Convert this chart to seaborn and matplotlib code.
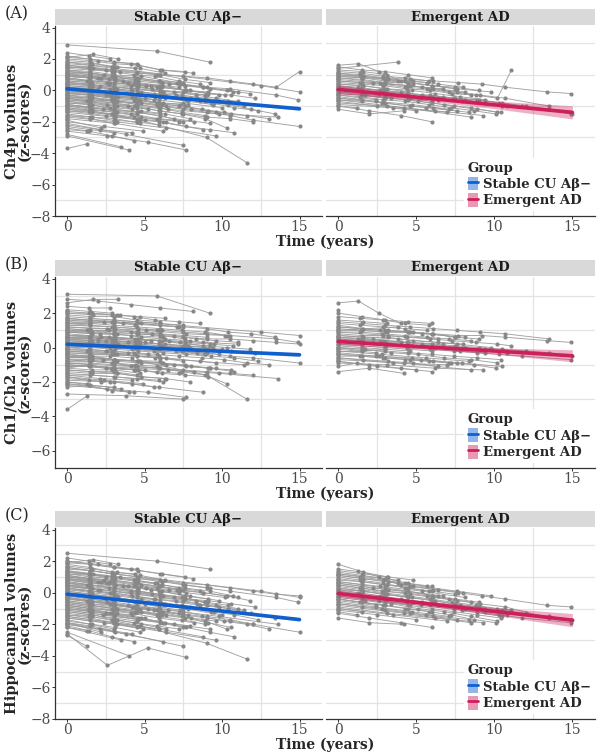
import pandas as pd
import numpy as np
import matplotlib
matplotlib.use("Agg")
import matplotlib.pyplot as plt
import seaborn as sns
from matplotlib.patches import Patch
from matplotlib.lines import Line2D
from matplotlib.legend_handler import HandlerTuple

# data area
groups = ['Stable CU A\u03b2\u2212', 'Emergent AD']

# visit times (years) per subject, stable CU Ab- group
st_time = [
    [0, 1.5, 3.1, 4.6], [0, 1.4, 2.9], [0, 2.0, 4.1, 6.0, 8.1],
    [0, 1.6, 3.2, 4.8, 6.3, 7.9, 9.5], [0, 5.8, 9.2], [0, 1.3],
    [0, 1.5, 3.0, 4.5, 6.1, 7.6, 9.1, 10.6], [0, 3.1, 6.2], [0, 1.5, 3.0, 12.5, 15.0],
    [0, 2.6, 5.2, 7.7], [0, 1.4, 2.8, 4.3, 5.8], [0, 4.0],
    [0, 1.6, 3.1, 4.7, 9.0, 11.6], [0, 1.5, 2.9, 4.4], [0, 2.5, 5.0, 7.5, 10.0],
    [0, 1.5, 3.0, 4.6, 6.1, 7.5, 9.0, 10.5, 13.5, 14.9], [0, 3.0, 5.9, 8.8], [0, 1.6],
    [0, 1.5, 3.0, 4.5, 6.0, 7.5], [0, 1.4, 2.9, 4.3, 5.7, 7.2, 8.6], [0, 2.1, 4.2],
    [0, 1.5, 3.1, 4.6, 6.2, 7.7, 9.3, 10.8, 12.3], [0, 1.7, 3.3], [0, 6.5, 9.8, 13.6],
    [0, 1.5, 3.0, 4.5, 5.9, 7.4, 8.9], [0, 2.4, 4.8, 7.1], [0, 1.5, 3.0],
    [0, 1.3, 2.7, 4.1, 5.5, 6.9, 8.3, 9.6, 11.0], [0, 3.5], [0, 1.5, 3.0, 4.5, 6.0, 7.6, 9.2],
    [0, 1.6, 3.2, 4.8, 6.4], [0, 2.9, 5.7, 8.6, 11.4], [0, 1.5, 3.0, 4.4, 5.9, 7.4, 8.9, 10.3],
    [0, 1.4, 2.8], [0, 1.5, 3.0, 4.5, 6.0, 7.5, 9.0, 10.5, 12.0, 13.5, 15.0], [0, 2.2],
    [0, 1.5, 3.1, 4.6, 6.0], [0, 1.6, 3.1, 4.6, 6.2, 7.7, 9.2, 10.8], [0, 4.5, 8.9],
    [0, 1.5, 2.9, 4.4, 5.9, 7.3], [0, 1.4, 2.9, 4.3], [0, 1.5, 3.0, 4.5, 6.0, 7.5, 9.0, 10.4, 11.9, 13.4],
    [0, 2.7, 5.4], [0, 1.5], [0, 1.5, 3.0, 4.6, 6.1, 7.6, 9.1],
    [0, 3.2, 6.4, 9.6], [0, 1.6, 3.2, 4.7, 6.3], [0, 1.5, 3.0, 4.5, 6.0, 7.5, 9.0, 10.5, 12.0, 15.0],
    [0, 1.4, 2.8, 4.2, 5.6], [0, 2.0, 3.9, 5.9, 7.9, 9.8], [0, 1.5, 3.0, 4.5],
    [0, 1.5, 3.0, 4.5, 6.0, 7.4, 8.9, 10.4], [0, 2.5], [0, 1.6, 3.2, 4.8, 6.3, 7.9],
    [0, 1.5, 2.9, 4.4, 5.9, 7.3, 8.8, 10.3, 11.8], [0, 3.8, 7.5], [0, 1.5, 3.0, 4.5, 6.0],
    [0, 1.4, 2.9, 4.3, 5.8, 7.2, 8.7, 10.1, 11.6, 13.0], [0, 1.5, 3.0, 4.6, 6.1, 7.6], [0, 2.3, 4.6, 6.9, 9.2],
    [0, 1.5, 3.0], [0, 1.4, 2.9, 4.4, 5.8], [0, 2.0], [0, 1.6, 3.1, 4.7],
    [0, 1.5, 3.0, 4.5, 6.0, 7.5, 9.0], [0, 3.0, 6.0], [0, 1.5, 2.9], [0, 1.3, 2.6, 3.9, 5.2],
    [0, 1.5, 3.1, 4.6, 6.1, 7.6, 9.2, 10.7], [0, 2.4, 4.9], [0, 1.5], [0, 1.6, 3.1, 4.7, 6.2, 7.8],
    [0, 1.5, 3.0, 4.5], [0, 4.1, 5.9, 8.2], [0, 1.4, 2.8, 4.2, 5.6, 7.0, 8.4, 9.8], [0, 1.5, 3.0],
    [0, 2.6, 5.1, 7.7, 10.2], [0, 1.5, 3.0, 4.5, 6.0], [0], [0, 1.7, 3.4],
    [0, 1.5, 3.0, 4.5, 6.0, 7.5, 9.0, 10.5, 12.0], [0, 3.3], [0, 1.5, 3.1, 4.6], [0, 1.4, 2.9, 4.3, 5.8, 7.2],
    [0, 2.1, 4.1, 6.2], [0, 1.5, 3.0], [0], [0, 1.6, 3.1, 4.7, 6.3, 7.8, 9.4],
    [0, 1.5, 3.0, 4.5], [0, 2.9, 5.8], [0, 1.5, 2.9, 4.4, 5.9], [0, 1.3],
    [0, 1.5, 3.0, 4.6, 6.1, 7.6, 9.1, 10.6, 12.1], [0, 2.5, 5.0], [0, 1.5, 3.0, 4.5, 6.0, 7.5], [0],
    [0, 1.4, 2.8, 4.2], [0, 1.6, 3.2, 4.8, 6.4, 8.0, 9.6], [0, 3.6, 7.2], [0, 1.5, 3.0, 4.5, 5.9],
    [0, 1.5], [0, 2.2, 4.4, 6.6, 8.8, 11.0], [0, 1.5, 3.0, 4.4], [0],
    [0, 1.5, 3.0, 4.5, 6.0, 7.4, 8.9],
]
st_ch4p = [
    [1.2, 1.0, 0.9, 0.6], [-0.5, -0.7, -0.6], [2.2, 1.9, 1.7, 1.3, 1.1],
    [0.4, 0.3, 0.1, -0.1, -0.3, -0.5, -0.8], [2.9, 2.5, 1.8], [-3.7, -3.4],
    [-0.2, -0.3, -0.5, -0.6, -0.9, -1.0, -1.3, -1.5], [-1.8, -2.1, -2.6], [1.7, 1.6, 1.4, 0.3, -0.1],
    [-2.6, -2.9, -3.3, -3.8], [0.9, 0.8, 0.5, 0.4, 0.2], [-2.9, -3.8],
    [-1.1, -1.3, -1.6, -1.9, -3.0, -4.6], [1.9, 1.8, 1.5, 1.4], [0.0, -0.3, -0.5, -0.8, -1.1],
    [1.0, 0.9, 0.8, 0.7, 0.5, 0.4, 0.2, 0.1, -0.3, -0.6], [-1.4, -1.7, -2.0, -2.5], [0.6, 0.5],
    [-0.8, -0.9, -1.2, -1.4, -1.6, -2.0], [1.5, 1.4, 1.2, 1.0, 0.9, 0.6, 0.4], [-2.2, -2.5, -2.7],
    [0.3, 0.2, 0.0, -0.1, -0.3, -0.6, -0.8, -1.1, -1.3], [2.1, 2.3, 2.0], [-0.6, -1.2, -1.5, -1.7],
    [-0.3, -0.5, -0.6, -0.9, -1.1, -1.4, -1.6], [1.3, 1.0, 0.9, 0.5], [-1.6, -1.8, -2.1],
    [0.7, 0.6, 0.4, 0.3, 0.1, -0.1, -0.3, -0.5, -0.7], [-2.8, -3.6], [1.6, 1.5, 1.3, 1.2, 1.0, 0.7, 0.5],
    [-1.0, -1.2, -1.4, -1.7, -2.0], [0.1, -0.1, -0.4, -0.7, -1.0], [-0.5, -0.6, -0.8, -1.0, -1.3, -1.5, -1.8, -2.4],
    [2.4, 2.2, 2.0], [1.4, 1.3, 1.2, 1.1, 1.0, 0.9, 0.8, 0.6, 0.4, 0.2, 1.2], [-1.9, -2.4],
    [0.8, 0.6, 0.6, 0.3, 0.2], [-1.3, -1.4, -1.6, -1.8, -2.0, -2.3, -2.5, -2.7], [0.5, 0.1, -0.3],
    [-0.1, -0.2, -0.4, -0.5, -0.8, -0.9], [-2.4, -2.6, -2.9, -3.2], [0.2, 0.1, -0.1, -0.2, -0.4, -0.5, -0.7, -0.9, -1.2, -1.5],
    [1.1, 0.7, 0.3], [-0.9, -1.1], [0.9, 0.8, 0.7, 0.4, 0.3, 0.0, -0.1],
    [-1.7, -2.0, -2.4, -2.9], [1.8, 1.7, 1.5, 1.4, 1.1], [-0.4, -0.5, -0.7, -0.8, -1.0, -1.2, -1.4, -1.6, -1.9, -2.3],
    [0.0, -0.1, -0.3, -0.4, -0.6], [1.0, 0.8, 0.5, 0.3, 0.0, -0.3], [-1.2, -1.4, -1.5, -1.9],
    [0.5, 0.4, 0.2, 0.1, -0.1, -0.3, -0.5, -0.7], [1.5, 1.3], [-0.7, -0.9, -1.0, -1.3, -1.5, -1.8],
    [1.2, 1.1, 0.9, 0.8, 0.6, 0.4, 0.2, 0.0, -0.2], [-2.1, -2.8, -3.5], [0.3, 0.2, 0.1, -0.2, -0.3],
    [-0.2, -0.3, -0.5, -0.6, -0.8, -1.0, -1.2, -1.4, -1.6, -1.8], [2.0, 1.9, 1.7, 1.6, 1.3, 1.2], [-0.9, -1.2, -1.4, -1.8, -2.1],
    [1.3, 1.2, 1.0], [-0.3, -0.4, -0.6, -0.7, -0.9], [0.2, 0.1], [-1.5, -1.7, -1.8, -2.1],
    [0.6, 0.5, 0.3, 0.2, 0.0, -0.1, -0.3], [-0.9, -1.2, -1.5], [1.8, 1.6, 1.5], [-0.6, -0.7, -0.9, -1.0, -1.2],
    [1.1, 1.0, 0.8, 0.7, 0.5, 0.3, 0.1, -0.1], [-2.0, -2.3, -2.6], [0.9, 0.8], [-0.1, -0.3, -0.4, -0.6, -0.8, -0.9],
    [2.1, 2.0, 1.8, 1.7], [-1.1, -1.5, -1.8, -2.0], [0.4, 0.3, 0.1, 0.0, -0.2, -0.3, -0.5, -0.7], [-2.3, -2.5, -2.7],
    [0.8, 0.5, 0.3, 0.0, -0.3], [-0.4, -0.6, -0.7, -0.9, -1.1], [-1.8], [1.5, 1.4, 1.2],
    [-0.7, -0.8, -1.0, -1.1, -1.3, -1.5, -1.7, -1.8, -2.0], [0.0, -0.4], [1.0, 0.9, 0.7, 0.5], [-1.2, -1.3, -1.5, -1.7, -1.8, -2.0],
    [0.5, 0.3, 0.1, -0.1], [-0.2, -0.3, -0.5], [1.7], [0.1, 0.0, -0.2, -0.3, -0.5, -0.7, -0.9],
    [-1.0, -1.1, -1.3, -1.5], [1.6, 1.3, 1.0], [0.0, -0.2, -0.3, -0.5, -0.6], [-2.5, -2.6],
    [0.7, 0.6, 0.5, 0.3, 0.2, 0.0, -0.2, -0.3, -0.5], [-1.3, -1.6, -1.9], [1.2, 1.1, 0.9, 0.8, 0.6, 0.5], [0.3],
    [-0.8, -0.9, -1.1, -1.2], [-0.4, -0.5, -0.7, -0.8, -1.0, -1.2, -1.4], [0.9, 0.6, 0.2], [-1.6, -1.7, -1.9, -2.0, -2.2],
    [0.5, 0.4], [1.0, 0.8, 0.6, 0.4, 0.2, -0.1], [-0.5, -0.7, -0.8, -1.0], [-1.3],
    [0.2, 0.1, -0.1, -0.2, -0.4, -0.5, -0.7],
]
st_ch12 = [
    [0.5, 0.6, 0.4, 0.3], [-1.2, -1.0, -1.3], [2.8, 2.7, 2.5, 2.3, 2.1],
    [0.9, 0.8, 0.8, 0.6, 0.5, 0.4, 0.2], [3.1, 3.0, 2.0], [-3.6, -2.8],
    [-0.6, -0.5, -0.7, -0.8, -0.9, -1.0, -1.2, -1.3], [-1.5, -1.7, -2.0], [1.8, 1.7, 1.6, 0.9, 0.7],
    [-2.2, -2.4, -2.6, -2.9], [0.2, 0.3, 0.1, 0.0, -0.1], [-2.1, -2.6],
    [-0.4, -0.5, -0.7, -0.8, -1.6, -3.0], [1.5, 1.4, 1.5, 1.3], [0.6, 0.4, 0.3, 0.1, -0.1],
    [1.3, 1.3, 1.2, 1.1, 1.0, 0.9, 0.8, 0.7, 0.5, 0.3], [-1.9, -2.0, -2.3, -2.6], [1.0, 0.9],
    [-0.2, -0.3, -0.3, -0.5, -0.6, -0.8], [2.1, 2.0, 1.9, 1.8, 1.6, 1.5, 1.4], [-1.6, -1.8, -1.9],
    [0.0, 0.0, -0.1, -0.2, -0.3, -0.4, -0.5, -0.6, -0.8], [2.6, 2.8, 2.8], [-1.0, -1.3, -1.5, -1.8],
    [0.3, 0.2, 0.2, 0.0, -0.1, -0.2, -0.4], [1.7, 1.5, 1.4, 1.2], [-0.9, -1.0, -1.3],
    [1.1, 1.0, 1.0, 0.9, 0.8, 0.7, 0.5, 0.4, 0.3], [-2.0, -2.4], [0.7, 0.6, 0.6, 0.5, 0.4, 0.2, 0.1],
    [-1.3, -1.4, -1.5, -1.7, -1.8], [-0.3, -0.4, -0.6, -0.8, -1.0], [-0.8, -0.8, -0.9, -1.1, -1.2, -1.4, -1.6, -2.1],
    [2.4, 2.3, 2.3], [0.9, 0.9, 0.8, 0.8, 0.7, 0.6, 0.5, 0.5, 0.4, 0.3, 0.2], [-1.7, -2.0],
    [1.2, 1.1, 1.1, 0.9, 0.9], [-0.5, -0.6, -0.7, -0.8, -0.9, -1.1, -1.2, -1.4], [0.1, -0.1, -0.4],
    [0.4, 0.3, 0.3, 0.2, 0.0, -0.1], [-2.3, -2.2, -2.5, -2.6], [1.6, 1.5, 1.5, 1.4, 1.3, 1.2, 1.1, 0.9, 0.8, 0.6],
    [0.8, 0.6, 0.4], [-0.4, -0.6], [-1.1, -1.1, -1.2, -1.3, -1.5, -1.6, -1.7],
    [-0.2, -0.4, -0.6, -0.9], [2.0, 2.0, 1.9, 1.8, 1.7], [0.2, 0.2, 0.1, 0.0, -0.1, -0.2, -0.3, -0.5, -0.6, -0.9],
    [-1.8, -1.9, -2.0, -2.1, -2.3], [0.5, 0.4, 0.3, 0.2, 0.0, -0.2], [-0.7, -0.8, -0.9, -1.1],
    [1.4, 1.4, 1.3, 1.2, 1.1, 1.0, 0.9, 0.7], [0.0, -0.2], [-1.4, -1.5, -1.5, -1.7, -1.8, -2.0],
    [0.6, 0.6, 0.5, 0.4, 0.4, 0.3, 0.1, 0.0, -0.1], [-2.7, -2.8, -3.0], [1.9, 1.8, 1.8, 1.6, 1.5],
    [-0.1, -0.1, -0.2, -0.3, -0.4, -0.5, -0.6, -0.7, -0.9, -1.0], [1.0, 1.0, 0.9, 0.8, 0.7, 0.5], [-0.5, -0.7, -0.8, -1.0, -1.2],
    [0.9, 1.0, 0.8], [-0.8, -0.7, -0.9, -1.0, -1.1], [0.6, 0.5], [-1.2, -1.3, -1.3, -1.5],
    [1.1, 1.0, 1.0, 0.9, 0.8, 0.7, 0.6], [-0.5, -0.7, -0.8], [2.2, 2.1, 2.0], [-0.1, -0.2, -0.2, -0.3, -0.4],
    [0.7, 0.7, 0.6, 0.5, 0.4, 0.3, 0.2, 0.1], [-1.7, -1.9, -2.1], [1.4, 1.3], [0.3, 0.2, 0.2, 0.1, 0.0, -0.1],
    [1.6, 1.6, 1.5, 1.4], [-0.9, -1.1, -1.2, -1.4], [0.1, 0.1, 0.0, -0.1, -0.2, -0.2, -0.3, -0.4], [-2.1, -2.2, -2.3],
    [1.2, 1.1, 1.0, 0.8, 0.7], [-0.3, -0.4, -0.4, -0.5, -0.6], [-1.5], [2.0, 1.9, 1.9],
    [-0.9, -0.9, -1.0, -1.1, -1.2, -1.3, -1.4, -1.5, -1.6], [0.4, 0.2], [0.6, 0.5, 0.5, 0.4], [-1.0, -1.1, -1.2, -1.3, -1.4, -1.5],
    [0.9, 0.8, 0.7, 0.6], [-0.6, -0.6, -0.7], [2.1], [0.5, 0.4, 0.4, 0.3, 0.2, 0.1, 0.0],
    [-1.3, -1.4, -1.4, -1.6], [1.3, 1.2, 1.0], [-0.2, -0.2, -0.3, -0.4, -0.5], [-2.0, -2.1],
    [0.3, 0.3, 0.2, 0.2, 0.1, 0.0, -0.1, -0.2, -0.3], [-1.0, -1.2, -1.3], [1.7, 1.6, 1.6, 1.5, 1.4, 1.3], [0.8],
    [-0.4, -0.5, -0.5, -0.6], [-0.7, -0.7, -0.8, -0.9, -1.0, -1.1, -1.2], [1.5, 1.4, 1.2], [-1.6, -1.6, -1.7, -1.8, -1.9],
    [0.0, 0.1], [0.7, 0.6, 0.5, 0.4, 0.3, 0.2], [-1.1, -1.1, -1.2, -1.3], [-0.9],
    [0.4, 0.4, 0.3, 0.2, 0.1, 0.0, -0.1],
]
st_hipp = [
    [0.9, 0.7, 0.5, 0.2], [-0.8, -1.0, -1.3], [2.0, 1.8, 1.5, 1.2, 0.9],
    [0.2, 0.0, -0.2, -0.4, -0.7, -0.9, -1.2], [2.5, 2.0, 1.5], [-2.7, -3.4],
    [-0.5, -0.7, -0.9, -1.1, -1.4, -1.6, -1.9, -2.2], [-2.0, -2.5, -3.1], [1.6, 1.4, 1.2, 0.1, -0.3],
    [-2.6, -4.6, -3.5, -4.1], [1.1, 0.9, 0.7, 0.5, 0.3], [-2.5, -4.0],
    [-1.3, -1.5, -1.8, -2.1, -3.2, -4.2], [1.8, 1.6, 1.3, 1.2], [-0.1, -0.4, -0.7, -1.0, -1.4],
    [1.3, 1.2, 1.0, 0.9, 0.7, 0.5, 0.3, 0.1, -0.3, -0.6], [-1.5, -1.9, -2.3, -2.8], [0.5, 0.3],
    [-1.0, -1.2, -1.4, -1.7, -1.9, -2.2], [1.4, 1.2, 1.0, 0.8, 0.6, 0.3, 0.1], [-2.0, -2.3, -2.6],
    [0.0, -0.1, -0.3, -0.5, -0.7, -0.9, -1.2, -1.4, -1.7], [1.9, 2.1, 1.8], [-0.4, -1.1, -1.5, -2.0],
    [-0.6, -0.8, -1.0, -1.2, -1.5, -1.7, -2.0], [1.0, 0.8, 0.5, 0.2], [-1.7, -2.0, -2.3],
    [0.6, 0.5, 0.3, 0.1, -0.1, -0.3, -0.5, -0.8, -1.0], [-2.2, -3.0], [1.5, 1.4, 1.2, 1.0, 0.8, 0.5, 0.3],
    [-1.2, -1.4, -1.7, -2.0, -2.3], [0.3, 0.0, -0.4, -0.8, -1.1], [-0.3, -0.5, -0.7, -0.9, -1.2, -1.5, -1.8, -2.3],
    [2.2, 2.0, 1.8], [1.2, 1.1, 1.0, 0.9, 0.8, 0.6, 0.5, 0.3, 0.1, -0.1, -0.2], [-1.9, -2.5],
    [0.7, 0.5, 0.4, 0.1, -0.1], [-1.0, -1.2, -1.4, -1.6, -1.9, -2.2, -2.5, -2.8], [0.4, -0.1, -0.6],
    [0.0, -0.2, -0.4, -0.6, -0.9, -1.1], [-2.1, -2.4, -2.8, -3.1], [0.4, 0.3, 0.1, -0.1, -0.3, -0.5, -0.8, -1.0, -1.3, -1.6],
    [1.1, 0.6, 0.2], [-0.7, -0.9], [0.8, 0.7, 0.5, 0.3, 0.1, -0.2, -0.4],
    [-1.6, -2.0, -2.5, -3.0], [1.7, 1.5, 1.3, 1.1, 0.8], [-0.2, -0.4, -0.6, -0.8, -1.0, -1.2, -1.5, -1.7, -2.0, -2.5],
    [-0.3, -0.5, -0.7, -0.9, -1.1], [0.9, 0.7, 0.4, 0.1, -0.2, -0.5], [-1.4, -1.6, -1.9, -2.2],
    [0.6, 0.5, 0.3, 0.1, -0.1, -0.3, -0.6, -0.8], [1.3, 1.0], [-0.9, -1.1, -1.3, -1.6, -1.9, -2.1],
    [1.0, 0.9, 0.8, 0.6, 0.4, 0.2, 0.0, -0.2, -0.5], [-1.9, -2.6, -3.4], [0.2, 0.1, -0.1, -0.3, -0.5],
    [-0.4, -0.5, -0.7, -0.9, -1.1, -1.3, -1.5, -1.8, -2.0, -2.3], [1.9, 1.8, 1.6, 1.4, 1.2, 1.0], [-1.1, -1.4, -1.7, -2.0, -2.3],
    [1.0, 0.8, 0.6], [-0.6, -0.8, -1.0, -1.2, -1.4], [0.4, 0.2], [-1.8, -2.0, -2.2, -2.5],
    [0.7, 0.5, 0.3, 0.1, -0.1, -0.3, -0.6], [-1.1, -1.5, -1.8], [1.6, 1.4, 1.2], [-0.3, -0.5, -0.6, -0.8, -1.0],
    [1.2, 1.0, 0.9, 0.7, 0.5, 0.3, 0.1, -0.2], [-1.6, -1.9, -2.3], [0.6, 0.4], [-0.4, -0.6, -0.8, -1.0, -1.2, -1.4],
    [2.0, 1.8, 1.6, 1.5], [-0.8, -1.3, -1.6, -1.9], [0.3, 0.1, 0.0, -0.2, -0.4, -0.5, -0.7, -0.9], [-1.9, -2.1, -2.4],
    [0.9, 0.6, 0.3, 0.0, -0.3], [-0.7, -0.9, -1.1, -1.2, -1.4], [-2.0], [1.4, 1.2, 1.0],
    [-0.5, -0.7, -0.8, -1.0, -1.2, -1.4, -1.6, -1.8, -2.0], [0.1, -0.3], [0.8, 0.6, 0.5, 0.3], [-1.4, -1.5, -1.7, -1.9, -2.1, -2.3],
    [0.5, 0.2, 0.0, -0.2], [-0.2, -0.4, -0.6], [1.5], [-0.1, -0.3, -0.4, -0.6, -0.8, -1.0, -1.2],
    [-1.2, -1.4, -1.6, -1.8], [1.3, 1.0, 0.6], [-0.3, -0.5, -0.7, -0.9, -1.0], [-2.2, -2.4],
    [0.5, 0.4, 0.2, 0.0, -0.2, -0.4, -0.5, -0.7, -0.9], [-1.0, -1.3, -1.6], [1.1, 0.9, 0.8, 0.6, 0.4, 0.2], [0.0],
    [-0.9, -1.1, -1.3, -1.4], [-0.6, -0.8, -1.0, -1.2, -1.4, -1.6, -1.8], [0.8, 0.4, 0.0], [-1.5, -1.7, -1.9, -2.1, -2.3],
    [0.3, 0.1], [0.9, 0.7, 0.4, 0.2, 0.0, -0.3], [-0.8, -1.0, -1.1, -1.3], [-1.7],
    [0.1, -0.1, -0.3, -0.5, -0.6, -0.8, -1.0],
]

# visit times per subject, emergent AD group
em_time = [
    [0, 1.3, 2.6, 4.0], [0, 3.8], [0, 1.5, 3.0, 4.5, 6.0, 7.5, 9.0],
    [0, 2.4, 4.7, 7.1], [0, 1.4, 2.8], [0, 1.5, 3.0, 4.6, 6.1, 7.6, 9.1, 10.7, 13.5],
    [0, 2.0, 4.2], [0, 1.6, 3.2, 4.8, 6.4, 8.0], [0, 1.5, 3.0, 4.4, 5.9, 7.4, 8.9, 10.3, 11.8, 14.9],
    [0, 3.1, 6.2, 9.3], [0, 1.4, 2.9, 4.3, 5.8], [0, 1.5, 3.0],
    [0, 1.5, 3.1, 4.6, 6.1, 7.7, 9.2, 10.7, 13.4, 14.9], [0, 2.6, 5.3, 7.9, 10.5], [0, 1.2],
    [0, 1.6, 3.1, 4.7, 6.2, 7.8, 9.4], [0, 4.2, 8.5], [0, 1.5, 3.0, 4.5, 6.0],
    [0, 1.4, 2.9, 4.3, 5.8, 7.2, 8.7, 10.1], [0, 2.2, 4.4, 6.7], [0, 1.5, 3.0, 4.5, 6.0, 7.5, 9.0, 10.5, 12.0, 13.5, 15.0],
    [0, 3.5, 7.0], [0, 1.6, 3.2, 4.8], [0, 1.5, 2.9, 4.4, 5.9, 7.3, 8.8, 10.2, 11.1],
    [0, 2.8, 5.6, 8.4], [0, 1.5, 3.0, 4.6], [0, 1.3, 2.7, 4.0, 5.4, 6.7, 8.1, 9.4, 10.8],
    [0, 2.5, 5.0], [0, 1.5, 3.0, 4.5, 6.0, 7.5], [0, 1.7, 3.4, 5.1, 6.8, 8.5, 10.2],
    [0, 1.5, 3.0, 4.5], [0, 2.4], [0, 1.4, 2.9, 4.3, 5.7], [0, 1.5, 3.0, 4.6, 6.1, 7.6],
    [0, 3.2, 6.4], [0, 1.6, 3.1], [0, 1.5, 3.0, 4.5, 6.0, 7.4, 8.9, 10.4], [0],
    [0, 2.0, 4.0, 6.0], [0, 1.4, 2.8, 4.3, 5.7, 7.1, 8.5], [0, 1.5], [0, 2.7, 5.4, 8.1],
    [0, 1.5, 3.0, 4.5, 6.0], [0, 3.8, 7.6, 9.8], [0, 1.6, 3.2, 4.8, 6.4],
]
em_ch4p = [
    [1.6, 1.7, 1.2, 0.6], [1.4, 1.8], [0.8, 0.7, 0.5, 0.5, 0.3, 0.2, 0.0],
    [-0.4, -0.7, -0.9, -1.2], [0.3, 0.1, 0.0], [0.6, 0.5, 0.4, 0.3, 0.1, -0.1, -0.3, -0.5, -1.0],
    [-1.2, -1.5, -1.3], [1.0, 0.9, 0.7, 0.6, 0.4, 0.2], [0.2, 0.1, 0.0, -0.2, -0.3, -0.5, -0.6, -0.8, -1.0, -1.5],
    [-0.8, -1.0, -1.3, -1.6], [1.2, 1.1, 0.9, 0.8, 0.6], [-0.2, -0.3, -0.5],
    [0.9, 0.8, 0.8, 0.7, 0.6, 0.5, 0.4, 0.2, -0.1, -0.2], [0.0, -0.2, -0.5, -0.7, -1.0], [-1.0, -1.1],
    [0.4, 0.3, 0.1, 0.0, -0.2, -0.4, -0.6], [-0.6, -1.1, -1.7], [1.5, 1.3, 1.2, 1.0, 0.8],
    [-0.3, -0.4, -0.6, -0.7, -0.9, -1.1, -1.3, -1.5], [0.7, 0.5, 0.3, 0.1], [0.1, 0.0, -0.1, -0.2, -0.4, -0.5, -0.6, -0.8, -1.0, -1.2, -1.5],
    [-0.9, -1.1, -1.4], [1.1, 0.9, 0.7, 0.4], [0.5, 0.4, 0.3, 0.1, 0.0, -0.2, -0.3, -0.5, 1.3],
    [-0.5, -0.8, -1.1, -1.4], [0.0, -0.1, -0.3, -0.5], [0.3, 0.2, 0.0, -0.1, -0.3, -0.4, -0.6, -0.8, -1.0],
    [-0.7, -1.0, -1.3], [0.9, 0.8, 0.6, 0.5, 0.3, 0.1], [-0.1, -0.3, -0.5, -0.7, -0.9, -1.1, -1.4],
    [0.4, 0.3, 0.1, -0.1], [-0.3, -0.6], [1.1, 1.0, 0.8, 0.6, 0.5], [-0.5, -0.6, -0.8, -1.0, -1.1, -1.3],
    [0.2, -0.2, -0.5], [1.3, 1.2, 1.0], [-0.2, -0.3, -0.5, -0.6, -0.8, -1.0, -1.2, -1.4], [0.7],
    [-1.0, -1.3, -1.6, -2.0], [0.6, 0.5, 0.4, 0.2, 0.1, -0.1, -0.3], [-0.6, -0.7], [0.8, 0.5, 0.2, -0.1],
    [-0.1, -0.2, -0.4, -0.5, -0.7], [1.0, 0.6, 0.1, -0.1], [0.1, -0.1, -0.2, -0.4, -0.6],
]
em_ch12 = [
    [2.6, 2.7, 2.0, 1.4], [1.0, 1.2], [1.1, 1.0, 0.9, 0.9, 0.8, 0.6, 0.5],
    [-0.3, -0.5, -0.6, -0.9], [0.5, 0.4, 0.4], [1.5, 1.4, 1.3, 1.2, 1.1, 1.0, 0.9, 0.8, 0.5],
    [-1.4, -1.2, -1.5], [0.7, 0.6, 0.6, 0.4, 0.3, 0.2], [0.2, 0.2, 0.1, 0.0, -0.1, -0.2, -0.3, -0.4, -0.5, -0.7],
    [-0.9, -1.0, -1.2, -1.3], [1.8, 1.7, 1.6, 1.4, 1.3], [0.0, -0.2, -0.1],
    [1.0, 1.0, 0.9, 0.9, 0.8, 0.7, 0.7, 0.6, 0.4, 0.3], [-0.4, -0.5, -0.7, -0.9, -1.1], [-1.1, -0.9],
    [0.3, 0.3, 0.2, 0.1, 0.0, -0.2, -0.3], [-0.7, -0.9, -1.3], [2.0, 1.8, 1.6, 1.5, 1.4],
    [-0.5, -0.5, -0.6, -0.7, -0.8, -0.9, -1.0, -1.2], [0.6, 0.5, 0.3, 0.2], [0.4, 0.4, 0.3, 0.3, 0.2, 0.1, 0.0, -0.1, -0.2, -0.3, -0.5],
    [-0.6, -0.9, -1.0], [1.3, 1.1, 1.0, 0.9], [0.8, 0.7, 0.7, 0.6, 0.5, 0.4, 0.3, 0.2, 0.1],
    [-0.2, -0.4, -0.6, -0.8], [0.1, 0.0, -0.1, -0.2], [0.5, 0.5, 0.4, 0.3, 0.2, 0.1, 0.0, -0.1, -0.3],
    [-0.8, -1.1, -1.3], [1.2, 1.1, 1.0, 0.9, 0.8, 0.6], [0.0, -0.1, -0.3, -0.4, -0.6, -0.7, -0.9],
    [0.6, 0.5, 0.4, 0.3], [-0.1, -0.3], [1.4, 1.3, 1.2, 1.1, 1.0], [-0.4, -0.5, -0.6, -0.7, -0.8, -0.9],
    [0.9, 0.7, 0.5], [1.6, 1.5, 1.4], [0.0, -0.1, -0.2, -0.3, -0.4, -0.5, -0.6, -0.7], [2.2],
    [-0.8, -1.0, -1.2, -1.4], [0.9, 0.9, 0.8, 0.7, 0.6, 0.5, 0.4], [-0.2, -0.2], [1.2, 1.0, 0.8, 0.6],
    [0.2, 0.1, 0.0, -0.1, -0.2], [0.7, 0.5, 0.2, 0.0], [-0.6, -0.7, -0.8, -0.9, -1.1],
]
em_hipp = [
    [1.8, 1.4, 1.0, 0.5], [1.2, 0.8], [0.7, 0.5, 0.3, 0.1, -0.2, -0.4, -0.6],
    [-0.6, -0.9, -1.2, -1.5], [0.1, -0.1, -0.3], [0.5, 0.3, 0.1, -0.1, -0.3, -0.5, -0.7, -0.9, -1.6],
    [-1.6, -1.9, -2.0], [1.1, 0.9, 0.7, 0.4, 0.2, 0.0], [0.0, -0.2, -0.4, -0.6, -0.8, -1.0, -1.2, -1.4, -1.6, -1.9],
    [-0.9, -1.3, -1.6, -1.9], [1.0, 0.8, 0.6, 0.3, 0.1], [-0.4, -0.6, -0.8],
    [0.8, 0.7, 0.5, 0.4, 0.2, 0.0, -0.2, -0.4, -0.8, -0.9], [-0.2, -0.5, -0.8, -1.1, -1.5], [-1.2, -1.4],
    [0.3, 0.1, -0.1, -0.3, -0.5, -0.8, -1.0], [-0.8, -1.3, -1.9], [1.3, 1.1, 0.9, 0.6, 0.4],
    [-0.4, -0.6, -0.8, -1.0, -1.2, -1.4, -1.7, -1.9], [0.6, 0.3, 0.1, -0.2], [0.2, 0.1, -0.1, -0.3, -0.5, -0.7, -0.9, -1.1, -1.3, -1.5, -1.7],
    [-1.0, -1.4, -1.8], [1.5, 1.3, 1.0, 0.8], [0.4, 0.2, 0.0, -0.2, -0.4, -0.6, -0.8, -1.0, -1.1],
    [-0.7, -1.0, -1.4, -1.7], [-0.1, -0.3, -0.5, -0.8], [0.2, 0.0, -0.2, -0.4, -0.6, -0.8, -1.0, -1.2, -1.4],
    [-1.1, -1.4, -1.7], [0.9, 0.7, 0.5, 0.3, 0.1, -0.1], [-0.3, -0.5, -0.7, -1.0, -1.2, -1.5, -1.8],
    [0.3, 0.1, -0.1, -0.3], [-0.5, -0.8], [1.2, 1.0, 0.8, 0.6, 0.4], [-0.7, -0.9, -1.1, -1.3, -1.5, -1.7],
    [0.6, 0.2, -0.2], [1.4, 1.2, 1.0], [-0.2, -0.4, -0.6, -0.8, -1.0, -1.2, -1.4, -1.6], [0.9],
    [-1.3, -1.6, -1.9, -2.2], [0.5, 0.3, 0.1, 0.0, -0.2, -0.4, -0.6], [-1.0, -1.2], [0.7, 0.4, 0.1, -0.3],
    [-0.4, -0.6, -0.8, -1.0, -1.2], [1.1, 0.6, 0.1, -0.2], [0.0, -0.2, -0.4, -0.6, -0.8],
]

# model fit (mean and CI half-width) read at these times
fit_time = [0, 5, 10, 15]
st_fit_ch4p = [0.10, -0.32, -0.74, -1.17]
st_ci_ch4p = [0.06, 0.04, 0.06, 0.10]
em_fit_ch4p = [0.06, -0.43, -0.92, -1.40]
em_ci_ch4p = [0.28, 0.17, 0.24, 0.42]
st_fit_ch12 = [0.19, -0.01, -0.22, -0.42]
st_ci_ch12 = [0.06, 0.04, 0.06, 0.10]
em_fit_ch12 = [0.35, 0.07, -0.20, -0.48]
em_ci_ch12 = [0.21, 0.13, 0.18, 0.35]
st_fit_hipp = [-0.09, -0.63, -1.16, -1.70]
st_ci_hipp = [0.06, 0.04, 0.06, 0.10]
em_fit_hipp = [-0.05, -0.61, -1.18, -1.74]
em_ci_hipp = [0.25, 0.16, 0.24, 0.42]

x_ticks = [0, 5, 10, 15]


def long_df(times, values):
    rows = []
    for sid, (ts, vs) in enumerate(zip(times, values)):
        for t, v in zip(ts, vs):
            rows.append((sid, t, v))
    return pd.DataFrame(rows, columns=['subject', 'time', 'value'])


sns.set_theme(style="white")
plt.rcParams['font.family'] = ['DejaVu Serif']

W, H = 600, 753
fig = plt.figure(figsize=(6, 7.53), dpi=100)


def px_axes(x0, y0, x1, y1):
    return fig.add_axes([x0 / W, 1 - y1 / H, (x1 - x0) / W, (y1 - y0) / H])


BLUE = '#0F5FCF'
PINK = '#CC1F5C'
LINE_GRAY = '#9C9C9C'
PT_GRAY = '#888888'
GRID = '#E3E3E3'

panels = [
    dict(tag='(A)', ylab='Ch4p volumes\n(z-scores)', ylim=(-8, 4.1), yticks=[4, 2, 0, -2, -4, -6, -8],
         grid=[3, 1, -1, -3, -5, -7], top=26, bottom=216,
         st=st_ch4p, em=em_ch4p, stf=st_fit_ch4p, stc=st_ci_ch4p, emf=em_fit_ch4p, emc=em_ci_ch4p),
    dict(tag='(B)', ylab='Ch1/Ch2 volumes\n(z-scores)', ylim=(-7, 4.1), yticks=[4, 2, 0, -2, -4, -6],
         grid=[3, 1, -1, -3, -5], top=277, bottom=468,
         st=st_ch12, em=em_ch12, stf=st_fit_ch12, stc=st_ci_ch12, emf=em_fit_ch12, emc=em_ci_ch12),
    dict(tag='(C)', ylab='Hippocampal volumes\n(z-scores)', ylim=(-8, 4.1), yticks=[4, 2, 0, -2, -4, -6, -8],
         grid=[3, 1, -1, -3, -5, -7], top=528, bottom=719,
         st=st_hipp, em=em_hipp, stf=st_fit_hipp, stc=st_ci_hipp, emf=em_fit_hipp, emc=em_ci_hipp),
]

lefts = [(55, 322), (326, 595)]

for p in panels:
    sets = [(st_time, p['st'], p['stf'], p['stc'], BLUE),
            (em_time, p['em'], p['emf'], p['emc'], PINK)]
    for k, ((x0, x1), (times, vals, fit, ci, col)) in enumerate(zip(lefts, sets)):
        ax = px_axes(x0, p['top'], x1, p['bottom'])
        for g in p['grid']:
            ax.axhline(g, color=GRID, lw=0.9, zorder=0)
        for g in [2.5, 7.5, 12.5]:
            ax.axvline(g, color=GRID, lw=0.9, zorder=0)

        df = long_df(times, vals)
        sns.lineplot(data=df, x='time', y='value', units='subject', estimator=None,
                     color=LINE_GRAY, lw=0.65, alpha=0.95, ax=ax, legend=False, zorder=2)
        sns.scatterplot(data=df, x='time', y='value', color=PT_GRAY, s=9, linewidth=0,
                        ax=ax, legend=False, zorder=3)

        fit_df = pd.DataFrame({'time': fit_time, 'value': fit})
        lo = np.array(fit) - np.array(ci)
        hi = np.array(fit) + np.array(ci)
        ax.fill_between(fit_time, lo, hi, color=col, alpha=0.35, lw=0, zorder=4)
        sns.lineplot(data=fit_df, x='time', y='value', color=col, lw=2.6, ax=ax, zorder=5)

        ax.set_xlim(-0.78, 16.45)
        ax.set_ylim(*p['ylim'])
        ax.set_xticks(x_ticks)
        ax.set_xticklabels([str(t) for t in x_ticks])
        ax.set_yticks(p['yticks'])
        ax.set_xlabel('')
        ax.set_ylabel('')
        ax.grid(False)
        for s in ['top', 'right']:
            ax.spines[s].set_visible(False)
        ax.spines['bottom'].set_color('#333333')
        ax.spines['bottom'].set_linewidth(0.9)
        ax.tick_params(axis='both', labelsize=10, labelcolor='#4D4D4D', colors='#333333',
                       length=2.5, width=0.7, pad=0.8, bottom=True, left=(k == 0))
        ax.tick_params(axis='x', pad=0.3)
        if k == 0:
            ax.spines['left'].set_color('#333333')
            ax.spines['left'].set_linewidth(0.9)
        else:
            ax.spines['left'].set_visible(False)
            ax.tick_params(axis='y', labelleft=False, left=False)
            handles = [(Patch(facecolor=BLUE, alpha=0.45, edgecolor='none'), Line2D([], [], color=BLUE, lw=2)),
                       (Patch(facecolor=PINK, alpha=0.45, edgecolor='none'), Line2D([], [], color=PINK, lw=2))]
            leg = ax.legend(handles, groups, title='Group', loc='upper left',
                            bbox_to_anchor=((457 - x0) / (x1 - x0), 1 - (151 - 26) / 190.0),
                            handler_map={tuple: HandlerTuple(ndivide=1)},
                            frameon=True, facecolor='white', edgecolor='none', framealpha=1,
                            fontsize=9.5, title_fontsize=9.5, handlelength=0.8, handleheight=1.25,
                            handletextpad=0.4, labelspacing=0.15, borderpad=0.3, alignment='left')
            leg.get_title().set_fontweight('bold')
            for t in leg.get_texts():
                t.set_fontweight('bold')

        # facet strip
        sax = px_axes(x0, p['top'] - 17, x1, p['top'] - 1)
        sax.set_facecolor('#D9D9D9')
        sax.set_xticks([])
        sax.set_yticks([])
        for s in sax.spines.values():
            s.set_visible(False)
        sax.text(0.5, 0.5, groups[k], ha='center', va='center', fontsize=9.5,
                 fontweight='bold', color='#1A1A1A', transform=sax.transAxes)

    mid = (p['top'] + p['bottom']) / 2
    fig.text(18 / W, 1 - mid / H, p['ylab'], rotation=90, ha='center', va='center',
             fontsize=10.5, fontweight='bold', multialignment='center', linespacing=0.9)
    fig.text(5 / W, 1 - (p['top'] - 12) / H, p['tag'], ha='left', va='center', fontsize=11.5)
    fig.text(325 / W, 1 - (p['bottom'] + 26) / H, 'Time (years)', ha='center', va='center',
             fontsize=10, fontweight='bold')

fig.savefig('out.png', dpi=100)
